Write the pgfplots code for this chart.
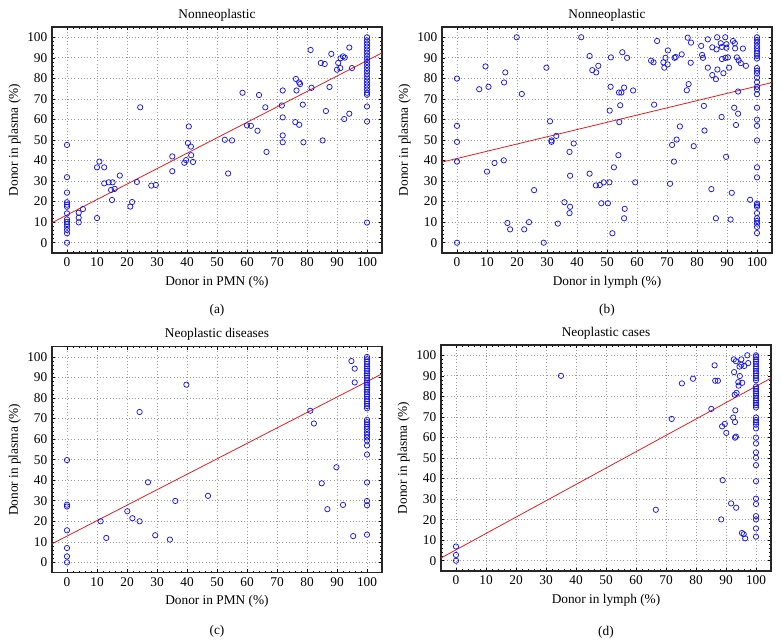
\documentclass[border=0pt]{standalone}
\usepackage{fontspec}
\setmainfont{Liberation Serif}
\usepackage{pgfplots}
\pgfplotsset{compat=1.18}
\definecolor{ptblue}{RGB}{20,20,230}
\definecolor{lnred}{RGB}{225,30,30}
\pgfplotsset{panel/.style={
  width=247.5pt, height=169.5pt, scale only axis,
  anchor=south west,
  xmin=-5,xmax=105,ymin=-5,ymax=105,
  xtick={0,10,...,100}, ytick={0,10,...,100},
  minor x tick num=4, minor y tick num=4,
  tick align=inside, major tick length=2.5pt, minor tick length=1.3pt,
  grid=major, major grid style={dotted, gray!80, line width=0.5pt},
  axis line style={line width=0.9pt, black!85},
  tick style={black, line width=0.4pt},
  ticklabel style={font=\fontsize{10}{12}\selectfont},
  label style={font=\fontsize{10}{12}\selectfont},
  title style={font=\fontsize{10}{12}\selectfont, at={(0.5,1)}, anchor=center, yshift=3pt},
  /pgf/number format/assume math mode=true,
  ylabel={Donor in plasma (\%)},
  ylabel style={yshift=-2pt},
  clip=false,
}}
\pgfplotsset{pts/.style={only marks, mark=o, mark size=2pt, ptblue, mark options={line width=0.55pt}},
  reg/.style={lnred, line width=0.6pt}}
\begin{document}
\begin{tikzpicture}
\path[use as bounding box] (0,0) rectangle (586.5pt,481.5pt);
% (a)
\begin{axis}[panel, at={(39pt,291.75pt)}, title={Nonneoplastic}, xlabel={Donor in PMN (\%)}]
\addplot[pts] coordinates {
(0,47.6) (0,31.9) (0,24.4) (0,19.7) (0,18.5) (0,17.5) (0,14.3) (0,11.4) (0,10.2) (0,9.1) (0,7.8) (0,6.2) (0,4.6) (0,0)
(3.9,14.6) (3.9,12.2) (3.9,9.9) (5.3,16.4)
(10,36.7) (10.8,39.5) (12.4,36.7) (10,12.0) (12.4,28.9) (13.9,29.4) (15.2,29.4) (14.7,25.7) (15.9,26.2) (15,20.8) (17.6,32.7) (21.1,17.6) (21.7,19.8) (23.3,29.6) (24.4,65.9) (28.1,27.8) (29.6,28.1) (35.1,42.0) (35.1,34.8) (40.6,56.6) (40.3,48.5) (41.3,46.8) (41.4,42.6) (42,39.3) (39.1,38.9) (39.7,40.2) (52.6,50.1) (55,49.8) (53.7,33.7)
(58.5,73.0) (60,57.1) (61.3,56.9) (63.5,54.5) (64,71.9) (66.1,65.9) (66.5,44.2) (71.9,74.1) (71.6,66.8) (71.9,61.0) (71.9,52.2) (71.9,48.9) (76.3,79.7) (76.5,74.1) (77.4,78.0) (77.7,77.2) (76.1,58.7) (77.4,57.4) (78.6,67.2) (78.8,48.9) (81.2,93.8) (81.5,75.4) (84.6,87.5) (85.9,87.0) (85.2,49.8) (86.3,64.1) (87.5,75.8) (88.1,91.9) (90.4,87.5) (90,84.2) (91.1,85.0) (91.2,89.8) (92,90.7) (92.6,90.1) (92.4,60.2) (94.1,62.8) (94.1,95.0) (95,85.0)
(100,100) (100,98.5) (100,97) (100,95.5) (100,94) (100,92.5) (100,91) (100,89.5) (100,88) (100,86.5) (100,85) (100,83.5) (100,82) (100,80.5) (100,79) (100,77.5) (100,76) (100,74.5) (100,73) (100,72) (100,66.3) (100,59.0) (100,9.8)
};
\addplot[reg] coordinates {(-5,9.75) (105,92.4)};
\node[font=\fontsize{10}{12}\selectfont] at (axis description cs:0.5,-0.252) {(a)};
\end{axis}
% (b)
\begin{axis}[panel, at={(331.5pt,291.75pt)}, title={Nonneoplastic}, xlabel={Donor in lymph (\%)}]
\addplot[pts] coordinates {
(19.9,100) (41.4,100) (44.2,90.9) (9.5,85.8) (29.8,85.2) (45.1,84.0) (46.4,82.9) (47.1,86.1) (51.3,90.2) (16.1,82.9) (0,79.9) (15.7,78.0) (10.5,75.9) (7.4,74.7) (21.6,72.4) (51.2,75.9) (50.9,64.3) (0,56.9) (31,59.1) (0,49.1) (31.5,49.8) (31.5,49.1) (33.1,52.0) (38.9,48.3) (37.5,44.2) (0,39.5) (15.6,40.1) (12.5,38.8) (10,34.6) (37.7,32.6) (44.2,33.6) (25.7,25.6) (46.3,27.9) (47.6,28.1) (48.9,29.4) (50.8,29.4) (52.3,36.7) (35.8,19.7) (37.7,17.5) (37.5,14.4) (48.1,19.2) (50.3,19.2) (16.8,9.6) (17.7,6.5) (24,10) (22.4,6.5) (33.6,9.3) (51.8,4.6) (0,0) (28.9,0)
(55.1,92.7) (56.7,90.0) (54.0,73.1) (54.8,73.1) (55.7,75.5) (58.7,74.1) (54.4,66.9) (54.1,58.7) (53.8,42.6) (55.9,16.5) (55.7,11.9) (59.4,29.4)
(66.7,98.2) (64.7,88.6) (65.5,87.8) (65.7,67.2) (68.8,87.8) (69.1,85.2) (69.5,90.0) (70.2,86.8) (70.3,93.6) (72.5,90.0) (72.9,90.4) (74.9,91.7) (74.3,56.6) (73.2,50.2) (71.7,47.6) (72.3,39.5) (71.0,28.7)
(76.9,99.8) (78,97.4) (77.9,87.6) (77.2,77.2) (76.6,74.2) (78.9,47.0) (81.4,95.8) (81.7,91.4) (82,90.0) (82.3,66.6) (82.5,54.6) (83.6,99.0) (83.6,85.2) (85.1,95.1) (85.1,81.6) (86.3,79.6) (86.5,94.1) (86.8,84.3) (86.7,100) (84.8,26.1) (86.3,11.9)
(87.9,97.1) (88.3,95.3) (88.2,61.2) (88.3,89.4) (88.8,82.5) (89.4,100) (89.5,90.0) (89.8,94.9) (89.8,96.6) (90.3,90.2) (90.7,85.2) (89.7,41.8) (92,98.2) (92.6,97.1) (92.7,94.6) (93.3,90.2) (93.9,88.7) (92.4,65.7) (93.7,62.8) (93.0,57.3) (93.7,73.6) (94.6,87.4) (95.3,94.5) (96.3,86.1) (91.6,24.3) (91.2,11.3) (97.7,20.9)
(100,100) (100,98.7) (100,97.4) (100,95.9) (100,94.6) (100,93.3) (100,92.2) (100,90.9) (100,89.6) (100,85.0) (100,83.7) (100,82.4) (100,80.4) (100,78.1) (100,75.9) (100,74.6) (100,72.3) (100,65.7) (100,59.9) (100,56.9) (100,49.8) (100,36.7) (100,31.8) (100,19.1) (100,18.3) (100,17.5) (100,14.4) (100,11.9) (100,10.6) (100,9.3) (100,7.7) (100,4.7)
};
\addplot[reg] coordinates {(-5,39.24) (105,77.96)};
\node[font=\fontsize{10}{12}\selectfont] at (axis description cs:0.5,-0.252) {(b)};
\end{axis}
% (c)
\begin{axis}[panel, at={(39pt,52pt)}, title={Neoplastic diseases}, xlabel={Donor in PMN (\%)}]
\addplot[pts] coordinates {
(39.8,86.5) (24.2,73.2) (0,49.8) (27,39.0) (47,32.4) (36.1,29.9) (0,28.1) (0,27.2) (20.1,24.9) (21.8,21.5) (24.2,20.0) (11.2,20.0) (0,15.6) (13.1,11.9) (29.4,13.2) (34.3,11.1) (0,7.0) (0,2.9) (0,0)
(94.8,98.0) (95.9,94.3) (95.9,87.6) (81.1,73.8) (82.3,67.6) (89.8,46.3) (84.9,38.5) (92,28.0) (86.8,25.9) (95.4,12.8)
(100,100) (100,98.9) (100,97.7) (100,96.6) (100,95.4) (100,94.3) (100,93.2) (100,92.0) (100,90.9) (100,89.8) (100,88.6) (100,87.5) (100,86.3) (100,85.2) (100,84.1) (100,82.9) (100,81.8) (100,80.7) (100,79.5) (100,78.4) (100,77.2) (100,76.1) (100,75.0)
(100,69.4) (100,68.3) (100,67.2) (100,66.0) (100,64.9) (100,63.4) (100,62.1) (100,60.8) (100,59.3) (100,56.9) (100,52.5) (100,38.9) (100,29.9) (100,27.8) (100,13.5)
};
\addplot[reg] coordinates {(-5,9.04) (105,91.76)};
\node[font=\fontsize{10}{12}\selectfont] at (axis description cs:0.5,-0.26) {(c)};
\end{axis}
% (d)
\begin{axis}[panel, at={(330.75pt,53.25pt)}, title={Neoplastic cases}, xlabel={Donor in lymph (\%)}]
\addplot[pts] coordinates {
(35,90.0) (0,6.9) (0,2.8) (0,0)
(71.9,69.0) (75.3,86.3) (79,88.6) (86.2,95.1) (86.4,87.6) (87.3,87.6) (85.1,73.9) (66.6,24.8) (88.7,65.4) (89.6,66.6) (90.1,62.2) (88.9,39.2) (88.4,20.1) (91.7,27.9) (93.4,25.8) (92.4,69.7) (93,67.5) (93,59.9) (93.3,60.4) (93.1,73.2) (92.9,80.8) (93.5,81.7) (92.7,91.8) (92.6,98.0) (93.3,97.1) (94.1,86.9) (94.2,85.2) (94.6,89.9) (95.4,86.6) (94.5,94.5) (95.1,95.4) (95.1,98.0) (96.1,94.8) (97.1,100) (97.4,96.2) (95.3,13.5) (95.9,12.9) (96.4,10.9)
(100,100) (100,99.2) (100,98) (100,96.9) (100,95.8) (100,94.6) (100,93.5) (100,92.3) (100,91.2) (100,90.0) (100,88.9) (100,87.8)
(100,84.8) (100,83.7) (100,82.5) (100,81.4) (100,80.3) (100,79.1) (100,78.0) (100,76.8) (100,75.7) (100,74.6)
(100,69.7) (100,68.5) (100,67.4) (100,66.2) (100,64.4) (100,59.9) (100,57.1) (100,52.7) (100,50.1) (100,46.5) (100,38.7) (100,30.2) (100,27.6) (100,21.7) (100,20.1) (100,15.7) (100,11.7)
};
\addplot[reg] coordinates {(-5,1.32) (105,88.88)};
\node[font=\fontsize{10}{12}\selectfont] at (axis description cs:0.5,-0.27) {(d)};
\end{axis}
\end{tikzpicture}
\end{document}
